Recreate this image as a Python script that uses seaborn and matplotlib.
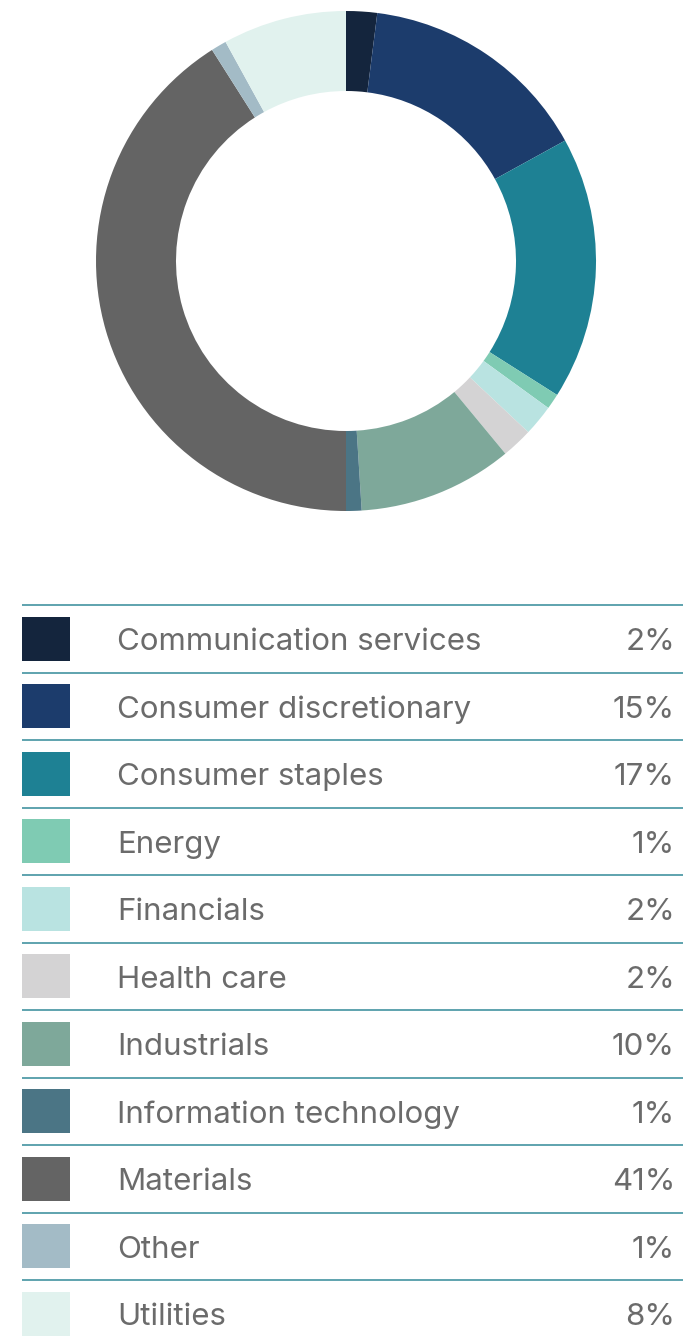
import matplotlib
matplotlib.use('Agg')
import matplotlib.pyplot as plt
import seaborn as sns

# Sector weights (%), drawn clockwise from 12 o'clock
sectors = ['Communication services', 'Consumer discretionary', 'Consumer staples',
           'Energy', 'Financials', 'Health care', 'Industrials',
           'Information technology', 'Materials', 'Other', 'Utilities']
weights = [2, 15, 17, 1, 2, 2, 10, 1, 41, 1, 8]
colors = ['#14253d', '#1c3c6c', '#1e8194', '#7fcbb3', '#b9e3e1', '#d4d3d4',
          '#7ea89a', '#4b7585', '#646464', '#a3bbc6', '#e1f2ee']

sns.set_theme(style='white')
plt.rcParams['font.family'] = ['Inter', 'DejaVu Sans']

W, H = 683, 1344
fig = plt.figure(figsize=(W / 100, H / 100), dpi=100)

# Donut
ax = fig.add_axes([96 / W, (H - 511) / H, 500 / W, 500 / H])
ax.pie(weights, colors=colors, startangle=90, counterclock=False,
       wedgeprops=dict(width=0.32, edgecolor='none'))
ax.set_xlim(-1, 1)
ax.set_ylim(-1, 1)
ax.set_aspect('equal')
ax.axis('off')

# Legend table
row_h = 67.5
top = 605
n = len(sectors)
tab = fig.add_axes([0, 0, 1, (H - top) / H])
tab.set_xlim(0, W)
tab.set_ylim((H - top) / row_h, 0)
tab.axis('off')

rows = [i + 0.5 for i in range(n)]
tab.hlines(range(n), 22, W, color='#5ea3ae', lw=1.4, clip_on=False)
tab.barh(rows, [48] * n, left=22, height=44 / row_h, color=colors, lw=0)
for y, name, w in zip(rows, sectors, weights):
    tab.text(117, y + 0.05, name, va='center', ha='left', fontsize=22.5, color='#6b6b6b')
    tab.text(675, y + 0.05, f'{w}%', va='center', ha='right', fontsize=22.5, color='#6b6b6b')

fig.savefig('out.png', dpi=100)
